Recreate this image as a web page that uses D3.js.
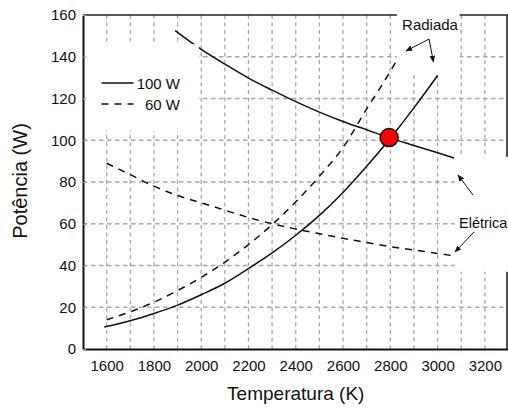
<!DOCTYPE html>
<html>
<head>
<meta charset="utf-8">
<script src="https://cdn.jsdelivr.net/npm/d3@7"></script>
<style>
  body { margin: 0; background: #fff; }
  svg { display: block; font-family: "Liberation Sans", Arial, sans-serif; }
</style>
</head>
<body>
<div id="chart"></div>
<script>
// temperatures (K) and power (W)
const elec100T = [1890, 2000, 2100, 2200, 2300, 2400, 2500, 2600, 2700, 2800, 2900, 3000, 3070];
const elec100P = [152.5, 143.5, 136.5, 129.8, 124, 118.5, 113.5, 109, 105, 101, 97.5, 94, 91.5];

const rad100T = [1590, 1700, 1800, 1900, 2000, 2100, 2200, 2300, 2400, 2500, 2600, 2700, 2800, 2900, 3000];
const rad100P = [10.5, 13.5, 17, 21, 26, 31.5, 38.5, 46, 54.5, 64, 75, 87.5, 101, 115.5, 131];

const elec60T = [1600, 1700, 1800, 1900, 2000, 2100, 2200, 2300, 2400, 2500, 2600, 2700, 2800, 2900, 3000, 3075];
const elec60P = [89, 83.5, 78, 73.5, 70, 66.5, 63, 60, 57.5, 55.2, 53, 51, 49, 47.4, 45.8, 44.5];

const rad60T = [1600, 1700, 1800, 1900, 2000, 2100, 2200, 2300, 2400, 2500, 2600, 2700, 2800, 2860];
const rad60P = [14, 17.8, 22.4, 28, 34.3, 41.6, 50, 59.6, 70.5, 82.8, 96.5, 115, 133, 145];

const xTicks = [1600, 1800, 2000, 2200, 2400, 2600, 2800, 3000, 3200];
const yTicks = [0, 20, 40, 60, 80, 100, 120, 140, 160];
const xGrid = [1600, 1700, 1800, 1900, 2000, 2100, 2200, 2300, 2400, 2500, 2600, 2700, 2800, 2900, 3000, 3100, 3200];
const yGrid = [20, 40, 60, 80, 100, 120, 140];

const crossing = {t: 2795, p: 101.3};

const W = 508, H = 410;
const x = d3.scaleLinear().domain([1500, 3300]).range([83, 508.5]);
const y = d3.scaleLinear().domain([0, 160]).range([349, 15]);

const svg = d3.select("#chart").append("svg").attr("width", W).attr("height", H);

// grid
svg.append("g").selectAll("line").data(xGrid).enter().append("line")
  .attr("x1", d => x(d)).attr("x2", d => x(d))
  .attr("y1", y(160)).attr("y2", y(0))
  .attr("stroke", "#a8a8a8").attr("stroke-width", 1.3).attr("stroke-dasharray", "4,3.5");
svg.append("g").selectAll("line").data(yGrid).enter().append("line")
  .attr("x1", x(1500)).attr("x2", x(3300))
  .attr("y1", d => y(d)).attr("y2", d => y(d))
  .attr("stroke", "#a8a8a8").attr("stroke-width", 1.3).attr("stroke-dasharray", "4.5,3.5");

// frame top / right
svg.append("line").attr("x1", x(1500)).attr("x2", x(3300)).attr("y1", y(160)).attr("y2", y(160))
  .attr("stroke", "#222").attr("stroke-width", 1.6);
svg.append("line").attr("x1", W - 1).attr("x2", W - 1).attr("y1", y(160)).attr("y2", y(0))
  .attr("stroke", "#222").attr("stroke-width", 1.6);

// curves
const line = (ts, ps) => d3.line().curve(d3.curveMonotoneX)
  .x((d, i) => x(ts[i])).y((d, i) => y(ps[i]))(ts);

svg.append("path").attr("d", line(elec100T, elec100P))
  .attr("fill", "none").attr("stroke", "#111").attr("stroke-width", 1.5);
svg.append("path").attr("d", line(rad100T, rad100P))
  .attr("fill", "none").attr("stroke", "#111").attr("stroke-width", 1.5);
svg.append("path").attr("d", line(elec60T, elec60P))
  .attr("fill", "none").attr("stroke", "#111").attr("stroke-width", 1.5).attr("stroke-dasharray", "7,6");
svg.append("path").attr("d", line(rad60T, rad60P))
  .attr("fill", "none").attr("stroke", "#111").attr("stroke-width", 1.5).attr("stroke-dasharray", "7,6");

// white boxes behind labels
const boxes = [
  {t0: 1505, t1: 1990, p0: 104.5, p1: 146},
  {t0: 2828, t1: 3093, p0: 131.5, p1: 175},
  {t0: 3073, t1: 3310, p0: 37, p1: 92}
];
svg.append("g").selectAll("rect").data(boxes).enter().append("rect")
  .attr("x", d => x(d.t0)).attr("width", d => x(d.t1) - x(d.t0))
  .attr("y", d => y(d.p1)).attr("height", d => y(d.p0) - y(d.p1))
  .attr("fill", "#fff");

// axes
const xAxis = svg.append("g").attr("transform", "translate(0," + y(0) + ")")
  .call(d3.axisBottom(x).tickValues(xTicks).tickFormat(d3.format("d"))
    .tickSizeInner(0).tickSizeOuter(0).tickPadding(11));
const yAxis = svg.append("g").attr("transform", "translate(" + x(1500) + ",0)")
  .call(d3.axisLeft(y).tickValues(yTicks).tickFormat(d3.format("d"))
    .tickSizeInner(-3).tickSizeOuter(0).tickPadding(7));
[xAxis, yAxis].forEach(a => {
  a.select(".domain").attr("stroke", "#111").attr("stroke-width", 2);
  a.selectAll(".tick line").attr("stroke", "#999");
  a.selectAll("text").attr("font-size", 15).attr("fill", "#111")
    .attr("font-family", "'Liberation Sans', Arial, sans-serif");
});

// crossing point
svg.append("circle").attr("cx", x(crossing.t)).attr("cy", y(crossing.p)).attr("r", 9)
  .attr("fill", "#ff0000").attr("stroke", "#111").attr("stroke-width", 1.5);

// axis titles
svg.append("text").attr("x", (x(1500) + x(3300)) / 2).attr("y", 400)
  .attr("text-anchor", "middle").attr("font-size", 19).attr("fill", "#111")
  .text("Temperatura (K)");
svg.append("text").attr("transform", "translate(27,181) rotate(-90)")
  .attr("text-anchor", "middle").attr("font-size", 20).attr("fill", "#111")
  .text("Potência (W)");

// legend
const legend = svg.append("g");
legend.append("line").attr("x1", 101.5).attr("x2", 133.5).attr("y1", 83).attr("y2", 83)
  .attr("stroke", "#111").attr("stroke-width", 1.5);
legend.append("line").attr("x1", 101.5).attr("x2", 133.5).attr("y1", 104).attr("y2", 104)
  .attr("stroke", "#111").attr("stroke-width", 1.5).attr("stroke-dasharray", "7,6");
legend.append("text").attr("x", 180).attr("y", 89).attr("text-anchor", "end")
  .attr("font-size", 15).attr("fill", "#111").text("100 W");
legend.append("text").attr("x", 180).attr("y", 110).attr("text-anchor", "end")
  .attr("font-size", 15).attr("fill", "#111").text("60 W");

// annotations
svg.append("defs").append("marker").attr("id", "ah")
  .attr("viewBox", "0 0 10 10").attr("refX", 9).attr("refY", 5)
  .attr("markerWidth", 7).attr("markerHeight", 7).attr("orient", "auto")
  .append("path").attr("d", "M0,1 L10,5 L0,9 Z").attr("fill", "#111");

svg.append("text").attr("x", 430).attr("y", 30).attr("text-anchor", "middle")
  .attr("font-size", 15).attr("fill", "#111").text("Radiada");
svg.append("path").attr("d", "M429,39 L406,51").attr("stroke", "#111").attr("stroke-width", 1)
  .attr("fill", "none").attr("marker-end", "url(#ah)");
svg.append("path").attr("d", "M429,39 L433.5,62").attr("stroke", "#111").attr("stroke-width", 1)
  .attr("fill", "none").attr("marker-end", "url(#ah)");

svg.append("text").attr("x", 459).attr("y", 228)
  .attr("font-size", 14.5).attr("fill", "#111").text("Elétrica");
svg.append("path").attr("d", "M473,195 L458,175").attr("stroke", "#111").attr("stroke-width", 1)
  .attr("fill", "none").attr("marker-end", "url(#ah)");
svg.append("path").attr("d", "M474,232 L455,252").attr("stroke", "#111").attr("stroke-width", 1)
  .attr("fill", "none").attr("marker-end", "url(#ah)");
</script>
</body>
</html>
